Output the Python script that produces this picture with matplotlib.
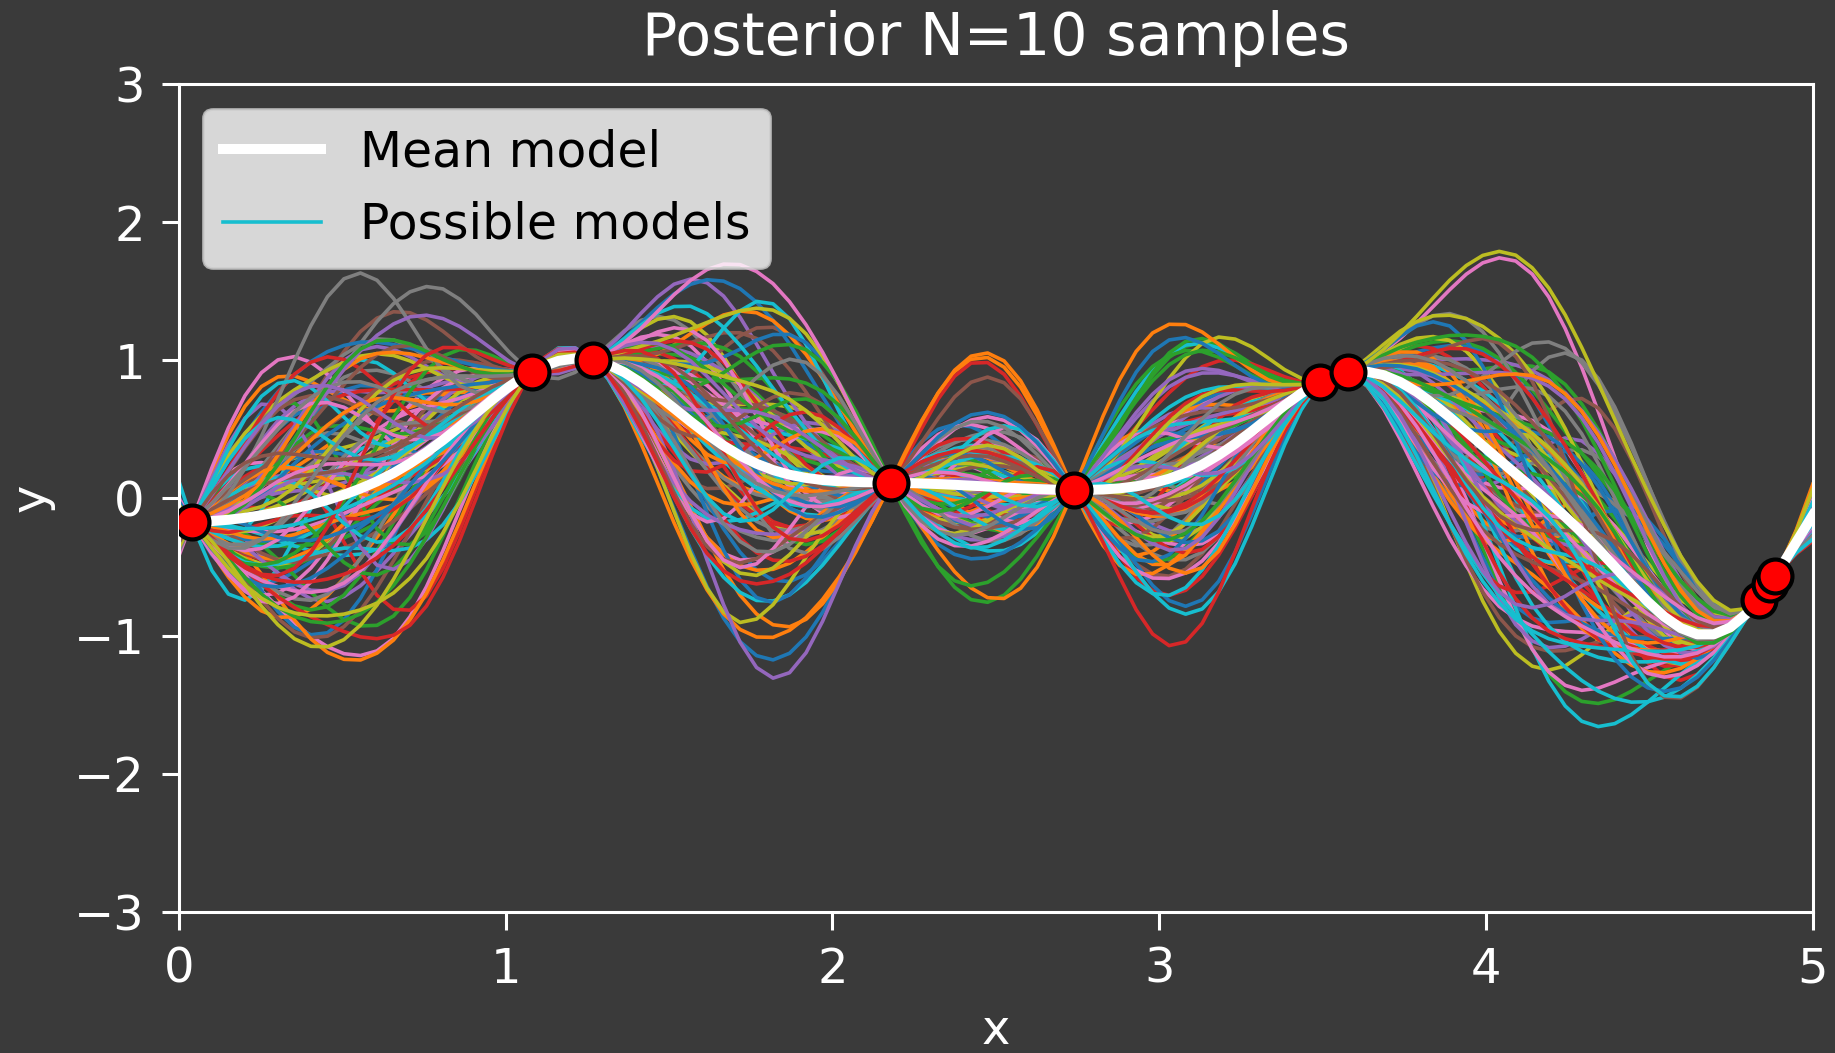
import numpy as np
import matplotlib
matplotlib.use("Agg")
import matplotlib.pyplot as plt

# Observed training points
x_obs = [0.039, 1.081, 1.266, 2.178, 2.738, 3.491, 3.579, 4.834, 4.870, 4.885]
y_obs = [-0.172, 0.916, 1.001, 0.111, 0.058, 0.839, 0.911, -0.738, -0.622, -0.566]

x_range = [0.0, 5.0]
y_range = [-3.0, 3.0]
n_grid = 100
n_models = 100

# Squared-exponential kernel settings
length_scale = 0.3
signal_std = 0.68
noise_var = 1e-5

title = "Posterior N=10 samples"
mean_label = "Mean model"
models_label = "Possible models"


def kernel(a, b):
    d = np.subtract.outer(a, b)
    return signal_std ** 2 * np.exp(-0.5 * d ** 2 / length_scale ** 2)


xo = np.asarray(x_obs)
yo = np.asarray(y_obs)
xs = np.linspace(x_range[0], x_range[1], n_grid)

K = kernel(xo, xo) + noise_var * np.eye(len(xo))
Ks = kernel(xo, xs)
Kss = kernel(xs, xs)
L = np.linalg.cholesky(K)
alpha = np.linalg.solve(L.T, np.linalg.solve(L, yo))
mu = Ks.T @ alpha
v = np.linalg.solve(L, Ks)
cov = Kss - v.T @ v
L_post = np.linalg.cholesky(cov + 1e-6 * np.eye(n_grid))
rng = np.random.default_rng(3)
models = mu[:, None] + L_post @ rng.standard_normal((n_grid, n_models))

bg = "#3a3a3a"
plt.rcParams.update({
    "font.size": 17.3,
    "text.color": "white",
    "axes.labelcolor": "white",
    "xtick.color": "white",
    "ytick.color": "white",
    "axes.edgecolor": "white",
    "axes.linewidth": 1.1,
    "xtick.major.size": 6.3,
    "ytick.major.size": 6.3,
    "xtick.major.width": 1.1,
    "ytick.major.width": 1.1,
    "xtick.major.pad": 6.0,
    "ytick.major.pad": 6.0,
})

fig = plt.figure(figsize=(9.175, 5.265), dpi=200, facecolor=bg)
ax = fig.add_axes([0.0975, 0.1342, 0.8904, 0.7858])
ax.set_facecolor(bg)

model_lines = ax.plot(xs, models, lw=1.3)
model_lines[-1].set_label(models_label)
mean_line, = ax.plot(xs, mu, color="white", lw=3.6, label=mean_label, zorder=3)
ax.plot(xo, yo, "o", color="red", markeredgecolor="black", markersize=12.2,
        markeredgewidth=1.5, zorder=4)

ax.set_xlim(*x_range)
ax.set_ylim(*y_range)
ax.set_xlabel("x", labelpad=5)
ax.set_ylabel("y", labelpad=7)
ax.set_title(title, fontsize=21.1, pad=10.5, color="white")

leg = ax.legend(handles=[mean_line, model_lines[-1]], loc="upper left",
                fontsize=17.6)
for t in leg.get_texts():
    t.set_color("black")

fig.savefig("out.png", dpi=200, facecolor=bg)
